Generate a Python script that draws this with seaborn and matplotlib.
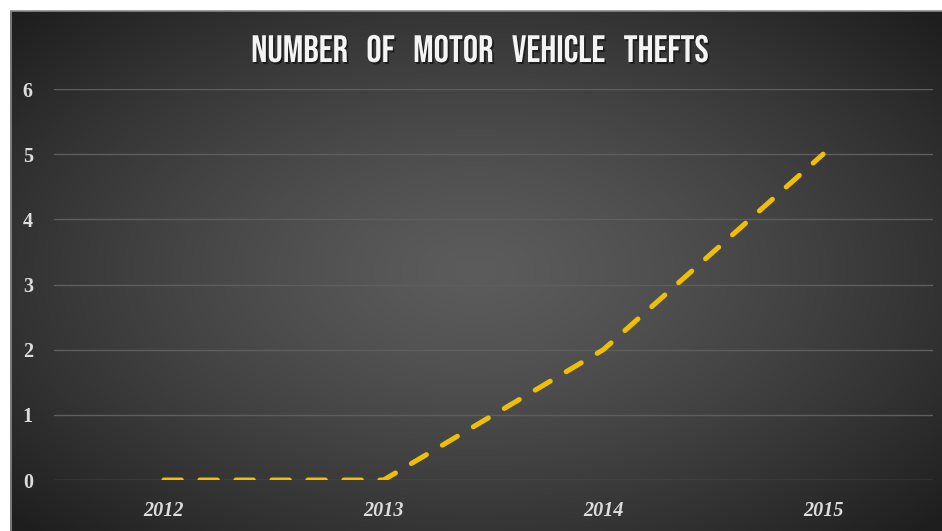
import numpy as np
import pandas as pd
import matplotlib
matplotlib.use("Agg")
import matplotlib.pyplot as plt
import matplotlib.patheffects as pe
import seaborn as sns

years = ["2012", "2013", "2014", "2015"]
thefts = [0, 0, 2, 5]
yticks = [0, 1, 2, 3, 4, 5, 6]
title = "NUMBER   OF   MOTOR   VEHICLE   THEFTS"

df = pd.DataFrame({"year": years, "thefts": thefts})

sns.set_theme(style="dark")
W, H = 942, 531
fig = plt.figure(figsize=(W / 100, H / 100), dpi=100)
fig.patch.set_facecolor("white")

# background radial gradient panel
bg = fig.add_axes([10 / W, 0, (W - 10) / W, (H - 11) / H])
bg.set_axis_off()
nx, ny = 400, 240
xx, yy = np.meshgrid(np.linspace(-1, 1, nx), np.linspace(-1, 1, ny))
r = np.sqrt(xx ** 2 + (yy * 0.95) ** 2)
r = np.clip(r / 1.35, 0, 1)
val = 0.36 - 0.24 * r ** 1.3
img = np.dstack([val, val, val])
bg.imshow(img, aspect="auto", extent=[0, 1, 0, 1], interpolation="bilinear")
bg.set_xlim(0, 1)
bg.set_ylim(0, 1)
fig.add_artist(plt.Line2D([10.5 / W, 10.5 / W], [0, (H - 11) / H], color="#8a8a8a", lw=1.2))
fig.add_artist(plt.Line2D([10.5 / W, 1], [(H - 11) / H, (H - 11) / H], color="#8a8a8a", lw=1.2))

ax = fig.add_axes([54 / W, (H - 480) / H, 879 / W, 391 / H])
ax.set_facecolor("none")
ax.patch.set_alpha(0)
sns.lineplot(data=df, x="year", y="thefts", ax=ax, color="#F0BF00", lw=3.6,
             linestyle=(0, (3.5, 3.7)), sort=False)
for ln in ax.get_lines():
    ln.set_dash_capstyle("round")
ax.set_xlim(-0.5, 3.5)
ax.set_ylim(0, 6)
ax.set_yticks(yticks)
ax.grid(axis="y", color="#5e5e5e", lw=1.0)
ax.grid(axis="x", visible=False)
for s in ax.spines.values():
    s.set_visible(False)
ax.set_xlabel("")
ax.set_ylabel("")
ax.tick_params(axis="both", length=0)
ax.tick_params(axis="x", pad=15)
ax.tick_params(axis="y", pad=22.5)
for t in ax.get_xticklabels():
    t.set_fontfamily("Liberation Serif")
    t.set_fontweight("bold")
    t.set_fontstyle("italic")
    t.set_fontsize(14.5)
    t.set_color("#dcdcdc")
for t in ax.get_yticklabels():
    t.set_fontfamily("Liberation Serif")
    t.set_fontweight("bold")
    t.set_fontsize(14.5)
    t.set_color("#dcdcdc")
    t.set_horizontalalignment("left")

tfam = ["Bebas Neue", "DejaVu Sans"]
fig.text(481 / W, 1 - 48.5 / H, title, ha="center", va="center", color="#f4f4f4",
         fontsize=27.5, family=tfam,
         path_effects=[pe.withSimplePatchShadow(offset=(1.2, -1.5), shadow_rgbFace="#111111", alpha=0.7)])

fig.savefig("out.png", dpi=100, facecolor=fig.get_facecolor())
